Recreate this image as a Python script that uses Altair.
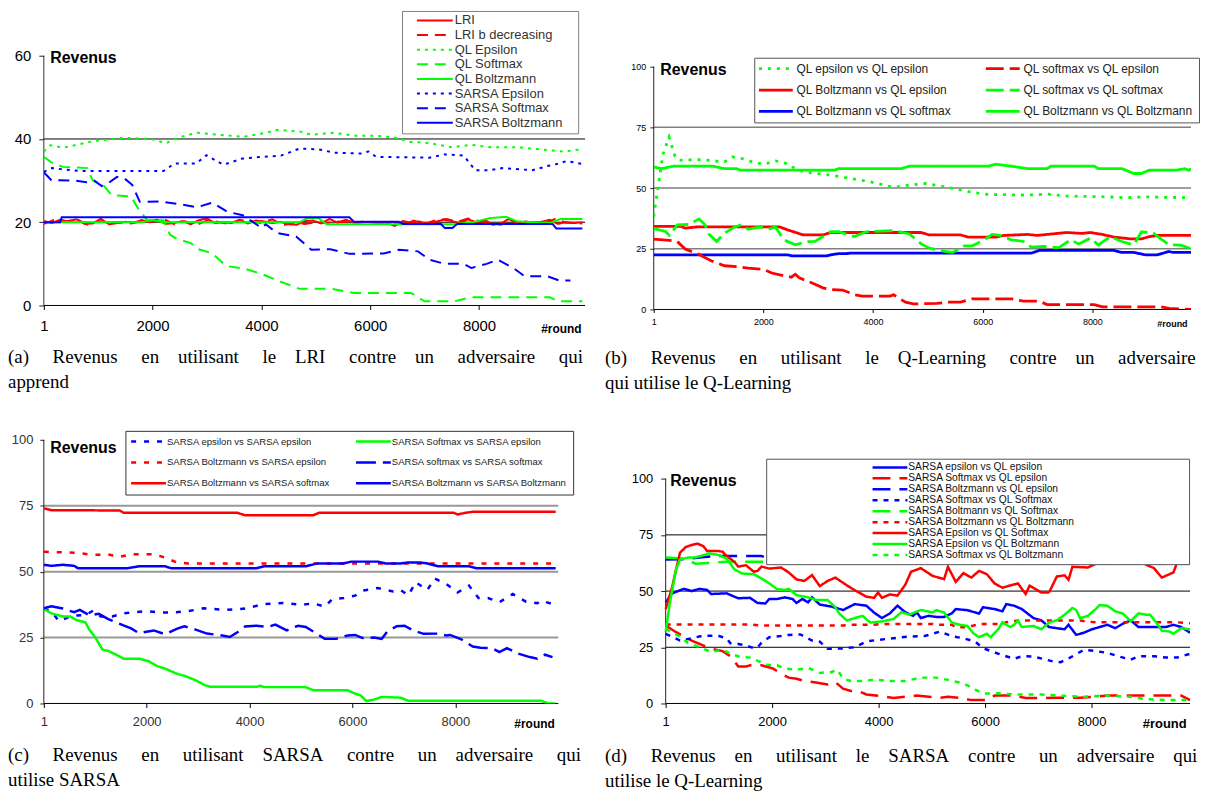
import altair as alt
import pandas as pd

RED, GREEN, BLUE = "#FF0000", "#00FF00", "#0000FF"
SOLID = [1, 0]

# ---------------- panel (a) ----------------
A_NAMES = ["LRI", "LRI b decreasing", "QL Epsilon", "QL Softmax", "QL Boltzmann",
           "SARSA Epsilon", "SARSA Softmax", "SARSA Boltzmann"]
A_COLORS = [RED, RED, GREEN, GREEN, GREEN, BLUE, BLUE, BLUE]
A_DASH = [SOLID, [11, 7], [3, 5], [11, 7], SOLID, [3, 5], [11, 7], SOLID]

A_LRI = [(1,20.3),(150,19.8),(300,20.6),(450,20.2),(600,20.7),(750,19.6),(900,19.7),(1050,20.8),(1200,19.5),
         (1350,19.8),(1500,20.1),(1650,19.9),(1800,20.5),(1950,20.0),(2100,20.4),(2250,19.6),(2400,19.8),
         (2550,20.3),(2700,19.5),(2850,20.5),(3000,20.9),(3150,19.8),(3300,20.0),(3450,19.8),(3600,20.6),
         (3750,19.7),(3900,20.4),(4050,20.2),(4200,19.8),(4350,20.1),(4500,19.5),(4650,19.4),(4800,20.3),
         (4950,20.4),(5100,19.7),(5250,20.8),(5400,19.9),(5550,20.6),(5700,19.9),(5850,20.1),(6000,20.0),
         (6150,19.8),(6300,19.9),(6450,19.1),(6600,20.3),(6750,19.8),(6900,20.2),(7050,19.5),(7200,20.1),
         (7350,20.6),(7500,20.3),(7650,19.8),(7800,20.7),(7950,20.0),(8100,20.6),(8250,19.4),(8400,19.7),
         (8550,20.8),(8700,19.6),(8850,20.2),(9000,19.9),(9150,20.1),(9300,20.6),(9450,19.6),(9600,20.0),
         (9750,19.8),(9900,20.0)]
A_LRI_B = [(1,19.6),(200,20.6),(400,20.1),(600,20.8),(800,19.4),(1000,20.3),(1200,19.9),(1400,20.0),
           (1600,19.7),(1800,20.2),(2000,20.4),(2200,20.8),(2400,19.5),(2600,20.2),(2800,19.3),(3000,20.4),
           (3200,20.1),(3400,19.6),(3600,20.5),(3800,20.3),(4000,19.8),(4200,20.7),(4400,19.3),(4600,19.9),
           (4800,19.6),(5000,20.0),(5200,19.8),(5400,20.2),(5600,20.0),(5800,19.9),(6000,20.2),(6200,19.9),
           (6400,20.1),(6600,19.3),(6800,20.4),(7000,19.6),(7200,20.5),(7400,20.8),(7600,20.1),(7800,20.9),
           (8000,20.3),(8200,19.8),(8400,19.4),(8600,20.6),(8800,19.5),(9000,20.0),(9200,19.6),(9400,20.8),
           (9600,19.9),(9900,19.7)]
A_QL_EPS = [(1,37),(120,38.5),(360,37.9),(920,39.5),(1480,40.3),(1970,40),(2250,39),(2470,40.3),(2820,41.5),
            (3240,41),(3660,40.5),(4080,41.5),(4290,42.2),(4710,41.8),(4920,41),(5340,41.5),(5690,40.8),
            (6110,40.8),(6460,40.3),(6740,39.3),(7090,39),(7510,38),(7860,38.6),(8210,38),(8700,38),
            (9120,37.5),(9540,37),(9900,37.5)]
A_QL_SOFT = [(1,35.7),(150,34.3),(350,33.3),(800,33),(900,30),(1100,28.8),(1250,26.5),(1600,26.2),(1750,23),
             (1900,20.5),(2200,20.5),(2320,17),(2450,16),(2700,15),(2850,13.5),(3100,12.5),(3350,9.5),
             (3700,8.8),(4000,7.6),(4300,6),(4700,4),(5300,4),(5700,3),(6750,3),(7000,1),(7550,1),(7850,2),
             (9300,2),(9450,1),(9900,1)]
A_QL_BOLTZ = [(1,20),(1800,20),(2000,20.5),(2200,20),(4700,20),(4850,21),(5050,21),(5200,19.5),(7500,19.5),
              (7900,20),(8200,21),(8500,21.3),(8700,20.2),(9300,19.8),(9500,20.8),(9900,20.8)]
A_SARSA_EPS = [(1,32.1),(150,33),(500,32.5),(700,32.3),(2200,32.3),(2400,34.1),(2800,34.1),(2990,36.1),
               (3300,33.8),(3650,35.3),(4000,35.7),(4360,36),(4700,37.7),(5060,37.5),(5340,36.7),(5830,36.5),
               (5970,37),(6110,35.7),(7090,35.5),(7370,36.3),(7720,36),(7930,32.5),(8210,32.5),(8420,33),
               (8980,32.5),(9260,33.5),(9470,34.1),(9610,34.7),(9900,34)]
A_SARSA_SOFT = [(1,32),(140,30.1),(575,30),(785,29.6),(930,30),(1065,28.7),(1200,29.5),(1345,30.9),(1485,30.5),
                (1625,29),(1765,24.9),(2116,25),(2466,24.4),(2816,23.6),(3096,24.7),(3376,22.5),(3657,21.7),
                (4007,18.6),(4080,19.5),(4287,17.4),(4637,16.6),(4917,13.4),(5268,13.5),(5618,12.4),(6249,12.5),
                (6529,13.4),(6879,13),(7089,11),(7370,10),(7720,10),(7860,9),(8140,10),(8350,11),(8630,9),
                (8840,7),(9260,7),(9470,6),(9680,6)]
A_SARSA_BOLTZ = [(1,20),(300,20),(330,21.2),(5618,21.2),(5700,20.1),(6529,20.1),(6600,19.6),(7300,19.6),
                 (7370,18.6),(7510,18.6),(7600,19.6),(9350,19.6),(9420,18.5),(9900,18.5)]
A_SERIES = [A_LRI, A_LRI_B, A_QL_EPS, A_QL_SOFT, A_QL_BOLTZ, A_SARSA_EPS, A_SARSA_SOFT, A_SARSA_BOLTZ]

# ---------------- panel (b) ----------------  (legend order: column by column)
B_NAMES = ["QL epsilon vs QL epsilon", "QL Boltzmann vs QL epsilon", "QL Boltzmann vs QL softmax",
           "QL softmax vs QL epsilon", "QL softmax vs QL softmax", "QL Boltzmann vs QL Boltzmann"]
B_COLORS = [GREEN, RED, BLUE, RED, GREEN, GREEN]
B_DASH = [[3, 6], SOLID, SOLID, [18, 6], [18, 6], SOLID]

B_EPS_EPS = [(1,38.3),(70,49),(170,64),(280,71),(390,63),(460,61.5),(860,61.7),(1290,60.8),(1435,62.8),
             (1650,62),(1795,60.8),(2010,59.8),(2224,61.2),(2439,60),(2583,58),(2726,56.7),(3230,55.3),
             (3588,54),(3946,52.6),(4377,50.3),(4664,51.2),(4951,51.9),(5238,50.8),(5596,49.2),(5812,48.2),
             (6099,47.4),(6816,47.1),(7175,47.5),(7534,46.7),(8251,46.4),(8610,46),(8969,46.4),(9327,46.2),
             (9800,46)]
B_SOFT_EPS = [(1,29),(287,28.5),(430,28),(574,24.9),(789,23),(1076,19.8),(1291,18),(1578,17.5),(1722,17),
              (2009,16.5),(2153,15),(2368,13.9),(2511,13.3),(2583,14.5),(2655,13),(2942,10.4),(3086,8.9),
              (3230,8.2),(3444,8),(3659,6.1),(3800,5.5),(4305,5.5),(4377,6),(4592,3),(4735,2.3),(5166,2.5),
              (5381,3),(5596,3),(5812,4.4),(6529,4.4),(6745,3.4),(7031,3.4),(7175,2),(8036,2),(8180,1.1),
              (9255,1.1),(9400,0.4),(9800,0)]
B_BOLTZ_EPS = [(1,34.2),(503,34.2),(574,33.5),(789,34),(2296,34),(2439,32.8),(2726,30.7),(3086,30.7),
               (3230,31.7),(4879,31.7),(5023,30.7),(5596,30.7),(5740,29.8),(6242,29.8),(6386,30.5),(6816,30.9),
               (6995,30.5),(7175,30.9),(7534,31.7),(7820,31.3),(7965,31.7),(8180,30.9),(8395,29.8),(8682,29.1),
               (8897,29.1),(9040,30),(9184,30.5),(9800,30.5)]
B_SOFT_SOFT = [(1,33.3),(215,32.1),(287,30.5),(430,34.8),(646,35),(825,37.3),(933,35),(1004,31.1),(1148,28),
               (1291,31.4),(1471,33.9),(1614,35),(1722,33),(1937,34),(2081,33),(2224,34),(2368,28.7),(2583,26.6),
               (2798,27.9),(2942,28),(3229,32),(3373,32),(3659,30),(3874,32),(4377,32.5),(4664,31.1),(4879,27),
               (5023,25.3),(5310,23.9),(5453,23.5),(5668,26.2),(5812,26.2),(6027,28.7),(6171,30.9),(6314,30.5),
               (6529,28.7),(6745,28),(6888,25.7),(7103,26),(7390,25.5),(7605,28.7),(7749,27),(7965,29.4),
               (8108,26.6),(8323,30),(8538,28),(8754,26.6),(8897,32),(9112,31.5),(9255,29),(9400,26.6),
               (9614,26.5),(9800,25)]
B_BOLTZ_SOFT = [(1,22.5),(2439,22.5),(2511,22.1),(3158,22.1),(3230,22.5),(3373,23),(3516,23),(3588,23.2),
                (6888,23.2),(7031,24.3),(8395,24.3),(8538,23.5),(8754,23.5),(8969,22.5),(9184,22.5),(9400,23.9),
                (9470,23.5),(9800,23.5)]
B_BOLTZ_BOLTZ = [(1,58.7),(143,58),(359,59),(1076,59),(1291,58),(1506,58),(1578,57.4),(3301,57.4),(3373,58),
                 (4520,58),(4664,59),(6099,59),(6242,59.8),(6530,59),(6816,58),(7175,58),(7246,59),(8036,59),
                 (8108,58),(8538,58),(8754,56),(8897,56),(9040,57.4),(9543,57.4),(9686,58),(9757,57.3),(9800,58)]
B_SERIES = [B_EPS_EPS, B_BOLTZ_EPS, B_BOLTZ_SOFT, B_SOFT_EPS, B_SOFT_SOFT, B_BOLTZ_BOLTZ]

# ---------------- panel (c) ----------------  (legend order: column by column)
C_NAMES = ["SARSA epsilon vs SARSA epsilon", "SARSA Boltzmann vs SARSA epsilon",
           "SARSA Boltzmann vs SARSA softmax", "SARSA Softmax vs SARSA epsilon",
           "SARSA softmax vs SARSA softmax", "SARSA Boltzmann vs SARSA Boltzmann"]
C_COLORS = [BLUE, RED, RED, GREEN, BLUE, BLUE]
C_DASH = [[5, 8], [5, 8], SOLID, SOLID, [20, 7], SOLID]

C_EPS_EPS = [(1,35.8),(148,35),(295,31.2),(553,33.3),(812,33.5),(959,35.2),(1107,33),(1328,33),(1550,34.2),
             (1992,35),(2288,34.5),(2509,34.5),(2804,35),(3100,36.1),(3542,35.5),(3911,36),(4280,37.7),
             (4649,38.1),(5018,37.4),(5240,38),(5461,36.7),(5609,39.6),(5830,40),(6052,40.9),(6199,42.8),
             (6494,43.8),(6790,42.5),(6937,43),(7085,41),(7232,46),(7454,43),(7601,47.4),(7823,45.3),
             (8044,42.1),(8266,44.7),(8450,40),(8635,40),(8856,38.4),(9114,41.5),(9373,38.6),(9594,38),
             (9668,39),(9889,37.7)]
C_SOFT_EPS = [(1,35.8),(148,34.2),(369,33),(516,33),(627,31.7),(812,30.7),(885,28),(996,25.2),(1144,20.4),
              (1254,19.9),(1439,18.2),(1550,17),(1845,17),(2029,16.1),(2214,14.1),(2362,13.2),(2583,11.3),
              (2731,10.5),(2952,8.8),(3137,6.9),(3247,6.3),(4133,6.3),(4207,6.7),(4280,6.2),(5092,6.2),
              (5240,5),(5904,5),(6015,4),(6162,3),(6273,0.9),(6420,1.5),(6568,2.5),(6937,2.2),(7085,1),
              (9668,1),(9815,0),(9950,0)]
C_BOLTZ_EPS = [(1,57.5),(590,57.2),(959,56.4),(1254,56.5),(1476,55.6),(1697,56.6),(2140,56.6),(2362,55.3),
               (2583,53.5),(2804,53.1),(9950,53.1)]
C_SOFT_SOFT = [(1,36.1),(148,36.9),(369,36),(590,34.6),(700,35.5),(885,33.5),(1070,34),(1254,32),(1550,29.6),
               (1697,28.5),(1845,26.7),(2140,27.7),(2362,26.2),(2583,28.3),(2731,29.3),(2952,28),(3173,26.5),
               (3469,25.8),(3616,25.2),(3764,27),(3911,29.2),(4133,29.5),(4354,29),(4502,29.9),(4723,27.7),
               (4944,29.5),(5092,29),(5314,26.4),(5461,24.5),(5683,24.5),(5904,25.8),(6052,26),(6199,24.8),
               (6420,25),(6568,24.5),(6679,27.4),(6863,29.3),(7011,29.5),(7159,27.9),(7380,26.4),(7675,26.5),
               (7823,25.8),(7897,26),(8118,24.3),(8339,21.6),(8487,21.1),(8708,21),(8856,19.5),(9003,21),
               (9225,18.9),(9446,17.6),(9594,17),(9742,18.5),(9889,17.6)]
C_BOLTZ_SOFT = [(1,74),(148,73.3),(1476,73.2),(1550,72.3),(3764,72.3),(3911,71.4),(5240,71.4),(5350,72.3),
                (7970,72.3),(8044,71.7),(8192,72.3),(8339,72.7),(9950,72.7)]
C_BOLTZ_BOLTZ = [(1,52.6),(148,52.2),(369,52.6),(590,52.2),(664,51.3),(1624,51.3),(1845,52),(2362,52),
                 (2472,51.3),(4133,51.3),(4280,52),(5092,52),(5314,53.1),(5830,53.1),(5978,53.8),(6494,53.8),
                 (6642,53.1),(6937,53.1),(7085,53.5),(7306,53.5),(7454,53.1),(7675,52),(8266,52),(8413,51.3),
                 (9950,51.3)]
C_SERIES = [C_EPS_EPS, C_BOLTZ_EPS, C_BOLTZ_SOFT, C_SOFT_EPS, C_SOFT_SOFT, C_BOLTZ_BOLTZ]

# ---------------- panel (d) ----------------
D_NAMES = ["SARSA epsilon vs QL epsilon", "SARSA Softmax vs QL epsilon", "SARSA Boltzmann vs QL epsilon",
           "SARSA Softmax vs QL Softmax", "SARSA Boltmann vs QL Softmax", "SARSA Boltzmann vs QL Boltzmann",
           "SARSA Epsilon vs QL Softmax", "SARSA Epsilon vs QL Boltzmann", "SARSA Softmax vs QL Boltzmann"]
D_COLORS = [BLUE, RED, BLUE, BLUE, GREEN, RED, RED, GREEN, GREEN]
D_DASH = [SOLID, [18, 9], [18, 9], [5, 6], [18, 9], [5, 6], SOLID, SOLID, [5, 6]]

D_EPS_EPS = [(1,45),(124,49),(343,51),(489,50),(635,51),(780,50.5),(853,48.7),(1145,49),(1291,47.5),(1364,46.8),
             (1583,47),(1729,44.7),(1875,44.5),(1948,46.5),(2093,46.5),(2239,47.2),(2385,46.5),(2458,44.7),
             (2568,46.5),(2677,45),(2750,47.2),(2896,44),(3115,43.1),(3333,41.6),(3552,44.2),(3771,43.5),
             (3917,40.4),(4063,38),(4209,40),(4355,43.5),(4501,40.6),(4647,39),(4720,40.5),(4793,38),(4939,39),
             (5085,38.5),(5230,38.5),(5376,40.1),(5449,42),(5668,41.5),(5887,40),(5960,42.8),(6179,42),(6325,41),
             (6398,44.2),(6544,43.5),(6690,42),(6909,38),(7056,37),(7202,34),(7348,33.5),(7494,33),(7567,35),
             (7713,30.5),(7859,31.5),(8005,33),(8151,34),(8297,35),(8443,33.5),(8589,35.5),(8735,37),(8881,34),
             (9100,34),(9392,34),(9538,35),(9684,34),(9850,31.5)]
D_SOFT_EPS = [(1,34.7),(197,31.7),(489,28),(635,26.5),(853,24.3),(1072,23.3),(1218,21),(1364,16.5),(1510,16.5),
              (1656,17.4),(1802,17),(2020,15.5),(2166,13.3),(2312,11.5),(2458,11),(2604,10),(2823,9.3),(3042,8.4),
              (3188,9.5),(3333,6.6),(3479,5.6),(3625,5.5),(3771,4),(4063,3.2),(4282,2.4),(4501,3),(4720,3.5),
              (4939,3),(5158,2.5),(5303,3),(5522,2.5),(5741,1.5),(6033,1.5),(6179,3.5),(6544,3.5),(6763,2.4),
              (7275,2.5),(7786,2.5),(8078,3),(8297,3.5),(9300,3.5),(9684,3.5),(9850,1.5)]
D_BOLTZ_EPS = [(1,64),(343,64.2),(780,65.3),(926,65.6),(1802,65.6),(1948,64.2),(2969,64.2),(3115,65.3),
               (3771,65.3),(4063,64.6),(4428,63.7),(5230,64.2),(5522,63.5),(5960,62.7),(6909,62.7),(6983,62.2),
               (9850,62.2)]
D_SOFT_SOFT = [(1,31),(270,28),(489,29),(707,30.2),(999,30),(1145,29),(1218,26.8),(1364,26.5),(1510,25.8),
               (1656,24.6),(1729,25),(1802,27),(1948,29.5),(2166,30),(2312,30.5),(2531,30.7),(2750,28),(2896,27.5),
               (3042,24.3),(3333,24.5),(3552,25),(3771,27.6),(3990,28.3),(4355,29.2),(4574,29.8),(4866,30),
               (5158,32),(5376,29.9),(5595,29),(5814,27.5),(5960,24.6),(6252,22.1),(6544,19.9),(6690,21),
               (6909,20.9),(7275,18.7),(7421,18.4),(7567,20),(7859,23.9),(8078,23.3),(8297,22.5),(8516,20.9),
               (8735,19.5),(8881,21),(9173,21),(9392,20.5),(9611,20.5),(9850,22.1)]
D_BOLTZ_SOFT = [(1,64.9),(343,64.5),(562,62.2),(780,62.5),(1145,63),(2531,63),(2750,62.5),(3042,63.7),
                (3333,64.2),(4209,64.2),(4355,63.5),(4793,63),(5960,63),(6252,62.2),(6690,62.2),(6763,63.7),
                (6983,64.2),(7202,63),(9850,62.5)]
D_BOLTZ_BOLTZ = [(1,35.1),(1583,35.1),(1802,34.7),(3333,34.7),(3479,35),(3917,35),(4063,35.4),(5012,35.4),
                 (5085,35),(5376,35),(5449,33.9),(5668,33.9),(5887,35.4),(6325,35.4),(6398,36.1),(6617,36.9),
                 (7786,36.9),(7932,36.4),(8078,36.1),(9611,36.1),(9850,35.7)]
D_EPS_SOFT = [(1,42),(124,51.9),(197,59.7),(270,67.1),(379,69.6),(489,70.5),(598,71.1),(707,70),(780,67.8),
              (999,67.8),(1072,67.5),(1109,66.4),(1291,63),(1364,60.9),(1510,61.5),(1656,58.6),(1729,59),
              (1802,60.9),(1948,60),(2166,60.5),(2312,58.3),(2458,55.2),(2604,54.5),(2750,57.1),(2896,52.2),
              (3042,54.5),(3188,56),(3406,52.5),(3552,50.4),(3771,47.5),(3917,47),(3990,49.4),(4063,47),
              (4209,48.5),(4355,48),(4501,52.8),(4610,58.6),(4793,60.2),(5012,56.8),(5230,55.3),(5303,60.8),
              (5449,54.1),(5595,58),(5741,56),(5887,59),(6033,57.5),(6179,53.4),(6325,51.5),(6471,52.5),
              (6617,53.4),(6763,48.7),(6836,52.4),(7056,49.4),(7202,49.4),(7348,56.5),(7494,57),(7567,55),
              (7640,60.8),(7932,60.5),(8151,63),(8297,67.8),(8443,63.4),(8735,63.5),(8881,65.6),(9027,61.7),
              (9173,60.2),(9319,56),(9538,58.3),(9611,63),(9850,64.6)]
D_EPS_BOLTZ = [(1,32),(88,46),(197,59.7),(270,64),(416,64.9),(562,65),(707,65.9),(817,66.8),(999,66),(1145,64.5),
               (1291,59.7),(1437,57.8),(1656,57.5),(1802,55.6),(1948,53.4),(2093,50.9),(2239,50.5),(2312,51),
               (2458,48.2),(2677,47.2),(2823,46),(3042,46),(3188,42.8),(3260,40),(3406,36.9),(3552,38),(3698,39),
               (3844,36),(4063,36.5),(4282,37.6),(4428,40.6),(4574,39.5),(4793,41.6),(5012,40.5),(5085,41.5),
               (5230,40.5),(5376,36),(5522,35),(5668,34.5),(5777,31.3),(5887,29.5),(6033,31),(6106,29.5),
               (6252,33.2),(6325,36.1),(6471,34),(6544,35),(6617,36.9),(6690,34),(6909,34.5),(7056,33),(7202,36),
               (7348,37),(7494,39.5),(7640,42.5),(7713,41.5),(7786,37.9),(7932,39),(8078,42),(8151,43.8),
               (8297,43.5),(8443,41),(8589,40),(8735,36.6),(8881,40.1),(9027,39.5),(9100,39.5),(9246,35),
               (9319,32.4),(9465,32),(9538,31),(9684,33.5),(9850,33)]
D_SOFT_BOLTZ = [(1,33.2),(270,29.8),(416,27),(635,25.1),(853,22.9),(1072,23.9),(1218,22.1),(1364,21),
                (1583,20.4),(1729,19),(1875,17.3),(2093,17),(2239,15.5),(2458,15),(2677,15.8),(2896,13.6),
                (3115,14),(3224,15),(3333,11.1),(3479,10),(3698,10),(3917,10.6),(4209,10),(4501,10),(4793,11.5),
                (5085,11.5),(5303,10.5),(5522,9.3),(5668,8.1),(5814,6.2),(5960,4.4),(6252,4.5),(6544,4),
                (7056,4),(7421,3.5),(7859,3),(8297,3.5),(8735,3),(9027,1.9),(9465,1.5),(9850,1.5)]
D_SERIES = [D_EPS_EPS, D_SOFT_EPS, D_BOLTZ_EPS, D_SOFT_SOFT, D_BOLTZ_SOFT, D_BOLTZ_BOLTZ,
            D_EPS_SOFT, D_EPS_BOLTZ, D_SOFT_BOLTZ]

X_TICKS = [1, 2000, 4000, 6000, 8000]

# ---------------- captions ----------------
NB = "\u00a0"


def justify(words, gaps):
    out = words[0]
    for w, g in zip(words[1:], gaps):
        out += NB * g + w
    return out


CAP_A = [justify(["(a)", "Revenus", "en", "utilisant", "le", "LRI", "contre", "un", "adversaire", "qui"],
                 [5, 5, 4, 5, 4, 5, 4, 5, 5]), "apprend"]
CAP_B = [justify(["(b)", "Revenus", "en", "utilisant", "le", "Q-Learning", "contre", "un", "adversaire"],
                 [5, 5, 5, 5, 4, 5, 4, 5]), "qui utilise le Q-Learning"]
CAP_C = [justify(["(c)", "Revenus", "en", "utilisant", "SARSA", "contre", "un", "adversaire", "qui"],
                 [5, 5, 5, 4, 5, 5, 4, 5]), "utilise SARSA"]
CAP_D = [justify(["(d)", "Revenus", "en", "utilisant", "le", "SARSA", "contre", "un", "adversaire", "qui"],
                 [5, 4, 5, 4, 4, 4, 5, 4, 4]), "utilise le Q-Learning"]

SANS = "Liberation Sans"
SERIF = "Liberation Serif"


def panel(key, names, colors, dashes, series, caption, P):
    fs, fx, fy = "s" + key, "x" + key, "y" + key
    rows = []
    for n, pts in zip(names, series):
        for x, y in pts:
            rows.append({fs: n, fx: x, fy: y})
    df = pd.DataFrame(rows)
    xs = alt.Scale(domain=[P.get("xmin", 1), P["xmax"]], nice=False, zero=False)
    ys = alt.Scale(domain=[0, P["ytop"]], nice=False, zero=False)
    xaxis = alt.Axis(values=X_TICKS, format="d", grid=False, domain=False,
                     tickColor="black", tickSize=P["xtick"],
                     labelPadding=P["xlabpad"], labelFont=SANS, labelFontSize=P["xfs"],
                     labelColor=P["labcolor"], labelFlush=False, labelOverlap=False,
                     title="#round", titleFont=SANS, titleFontWeight="bold",
                     titleFontSize=P["rfs"], titleColor="black", titleAlign="right",
                     titleBaseline="alphabetic", titleX=P["w"] - 4, titleY=P["rY"])
    yaxis = alt.Axis(values=P["yvals"], format="d", grid=False, domain=False, offset=P.get("yoff", 0),
                     tickColor="#222222", tickSize=P["ytick"],
                     labelPadding=P["ylabpad"], labelFont=SANS, labelFontSize=P["yfs"],
                     labelColor=P["labcolor"], labelOverlap=False,
                     title="Revenus", titleFont=SANS, titleFontWeight="bold", titleFontSize=16,
                     titleColor="black", titleAngle=0, titleAlign="left",
                     titleBaseline="alphabetic", titleX=P.get("revX", 6), titleY=P["revY"])
    L = P["legend"]
    lkw = dict(orient="none", legendX=L["x"], legendY=L["y"], direction="vertical",
               columns=L["cols"], symbolType=L["path"], symbolSize=L["size"],
               symbolStrokeWidth=P["sw"], symbolOffset=L["so"], labelOffset=L["lo"],
               labelFont=SANS, labelFontSize=L["fs"], labelColor=L["lc"], labelLimit=500,
               rowPadding=L["rp"], columnPadding=L.get("cp", 10), padding=L["pad"],
               strokeColor=L["stroke"], fillColor="white")
    if L.get("title"):
        lkw.update(title=L["title"], titleOrient="right", titlePadding=L["tp"], titleFontSize=2,
                   titleBaseline="top")
    else:
        lkw.update(title=None)
    leg = alt.Legend(**lkw)

    # gridlines and axis lines (drawn through the data scales)
    gk = "g" + key
    gdf = pd.DataFrame({gk: P["grid"], gk + "x0": [1] * len(P["grid"]),
                        gk + "x1": [P["xmax"]] * len(P["grid"])})
    grid = alt.Chart(gdf).mark_rule(color=P["gcolor"], strokeWidth=P["gw"]).encode(
        x=alt.X(gk + "x0:Q", scale=xs, axis=xaxis), x2=gk + "x1:Q",
        y=alt.Y(gk + ":Q", scale=ys, axis=yaxis))
    ak = "ax" + key
    adf = pd.DataFrame({ak + "x0": [1], ak + "x1": [P["xmax"]], ak + "y0": [0], ak + "y1": [P["yaxtop"]]})
    xline = alt.Chart(adf).mark_rule(color="black", strokeWidth=1).encode(
        x=alt.X(ak + "x0:Q", scale=xs, axis=xaxis), x2=ak + "x1:Q",
        y=alt.Y(ak + "y0:Q", scale=ys, axis=yaxis))
    yline = alt.Chart(adf).mark_rule(color=P.get("ycol", "#222222"), strokeWidth=1).encode(
        x=alt.X(ak + "x0:Q", scale=xs, axis=xaxis),
        y=alt.Y(ak + "y0:Q", scale=ys, axis=yaxis), y2=ak + "y1:Q")
    lines = alt.Chart(df).mark_line(strokeWidth=P["sw"], clip=True).encode(
        x=alt.X(fx + ":Q", scale=xs, axis=xaxis),
        y=alt.Y(fy + ":Q", scale=ys, axis=yaxis),
        color=alt.Color(fs + ":N", scale=alt.Scale(domain=names, range=colors), legend=leg),
        strokeDash=alt.StrokeDash(fs + ":N", scale=alt.Scale(domain=names, range=dashes), legend=leg),
    )
    title = alt.TitleParams(text=caption, orient="bottom", anchor="start", frame="group", align="left",
                            baseline="alphabetic", dx=P["capdx"], offset=P["capoff"], font=SERIF,
                            fontSize=19, fontWeight="normal", color="black", lineHeight=25)
    return alt.layer(grid, xline, yline, lines).properties(width=P["w"], height=P["h"], title=title)


PA = dict(xmax=9950, ytop=60, yaxtop=60, w=544, h=251, yvals=[0, 20, 40, 60], grid=[20, 40],
          gcolor="black", gw=1, sw=2, xtick=4, xlabpad=9, xfs=15, ytick=5, ylabpad=8, yfs=15,
          labcolor="black", rfs=12, rY=27, revY=7, capdx=-36, capoff=29, ycol="#333333",
          legend=dict(x=360, y=-45, cols=1, path="M-3.6,0H3.6", size=100, so=23.5, lo=13.5, fs=13,
                      lc="#333333", rp=0.7, pad=3, stroke="#808080", title=" ", tp=12))
PB = dict(xmax=9800, ytop=104.5, yaxtop=100, w=540, h=255, yvals=[0, 25, 50, 75, 100],
          grid=[25, 50, 75], gcolor="#808080", gw=1.5, sw=2.8, xtick=3, xlabpad=5, xfs=9, ytick=4,
          ylabpad=4, yfs=9, labcolor="black", rfs=9, rY=17, revY=19, capdx=-49, capoff=36,
          legend=dict(x=101, y=2, cols=2, path="M-3.78,0H3.78", size=81, so=10.75, lo=14.75, fs=12,
                      lc="#222222", rp=9.5, cp=28, pad=5, stroke="#555555"))
PC = dict(xmax=10000, ytop=100, yaxtop=100, w=517, h=265, yvals=[0, 25, 50, 75, 100],
          grid=[25, 50, 75], gcolor="#999999", gw=2, sw=2.5, xtick=4, xlabpad=8, xfs=13, ytick=4,
          ylabpad=7, yfs=13, labcolor="#333333", rfs=12, rY=24, revY=13, capdx=-36, capoff=32,
          legend=dict(x=82, y=-9, cols=2, path="M-5,0H5", size=49, so=12.5, lo=13.5, fs=9.6,
                      lc="#222222", rp=11, cp=20, pad=5.75, stroke="#333333"))
PD = dict(xmin=-223, xmax=9850, ytop=117.3, yaxtop=100, w=539, h=265, yvals=[0, 25, 50, 75, 100],
          grid=[25, 50, 75], gcolor="black", gw=1, sw=2.5, xtick=4, xlabpad=8, xfs=13, ytick=5,
          ylabpad=8, yfs=13, labcolor="black", rfs=13, rY=24, revY=46, revX=4, yoff=-12, capdx=-49,
          capoff=32,
          legend=dict(x=113, y=19, cols=1, path="M-5.83,0H5.83", size=36, so=115.65, lo=13.25, fs=10.3,
                      lc="#111111", rp=-3.0, pad=3.6, stroke="#555555", title=" ", tp=110))

ca = panel("a", A_NAMES, A_COLORS, A_DASH, A_SERIES, CAP_A, PA)
cb = panel("b", B_NAMES, B_COLORS, B_DASH, B_SERIES, CAP_B, PB)
cc = panel("c", C_NAMES, C_COLORS, C_DASH, C_SERIES, CAP_C, PC)
cd = panel("d", D_NAMES, D_COLORS, D_DASH, D_SERIES, CAP_D, PD)

chart = alt.concat(ca, cb, cc, cd, columns=2, spacing={"row": 131, "column": 69},
                   bounds="flush").resolve_scale(
    x="independent", y="independent", color="independent", strokeDash="independent").resolve_legend(
    color="independent", strokeDash="independent").resolve_axis(
    x="independent", y="independent").properties(padding=0).configure_view(strokeWidth=0)

chart.save("out.html", embed_options={"renderer": "svg", "actions": False})
